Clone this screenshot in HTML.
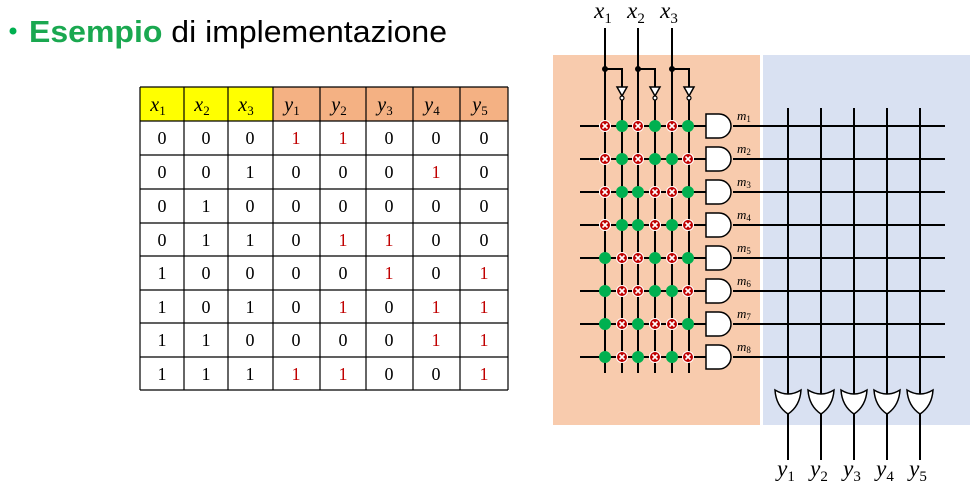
<!DOCTYPE html>
<html><head><meta charset="utf-8"><style>
body{margin:0;width:980px;height:494px;background:#fff;overflow:hidden}
</style></head><body>
<svg width="980" height="494" xmlns="http://www.w3.org/2000/svg" font-family="Liberation Serif, serif">
<circle cx="13" cy="31" r="3.5" fill="#00b050"/>
<text x="29" y="42" font-family="Liberation Sans, sans-serif" font-size="31" fill="#000" textLength="418" lengthAdjust="spacingAndGlyphs"><tspan fill="#1aa850" font-weight="bold">Esempio</tspan> di implementazione</text>
<!-- table -->
<rect x="140" y="87" width="88" height="34" fill="#ffff00"/>
<rect x="184" y="87" width="44" height="34" fill="#ffff00"/>
<rect x="228" y="87" width="45" height="34" fill="#ffff00"/>
<rect x="273" y="87" width="235" height="34" fill="#f4b183"/>
<g stroke="#000" stroke-width="1.2">
<line x1="140" y1="87" x2="508" y2="87"/><line x1="140" y1="121" x2="508" y2="121"/><line x1="140" y1="155" x2="508" y2="155"/><line x1="140" y1="189" x2="508" y2="189"/><line x1="140" y1="223" x2="508" y2="223"/><line x1="140" y1="256" x2="508" y2="256"/><line x1="140" y1="290" x2="508" y2="290"/><line x1="140" y1="323" x2="508" y2="323"/><line x1="140" y1="357" x2="508" y2="357"/><line x1="140" y1="390" x2="508" y2="390"/>
<line x1="140" y1="87" x2="140" y2="390"/><line x1="184" y1="87" x2="184" y2="390"/><line x1="228" y1="87" x2="228" y2="390"/><line x1="273" y1="87" x2="273" y2="390"/><line x1="320" y1="87" x2="320" y2="390"/><line x1="366" y1="87" x2="366" y2="390"/><line x1="413" y1="87" x2="413" y2="390"/><line x1="460" y1="87" x2="460" y2="390"/><line x1="508" y1="87" x2="508" y2="390"/>
</g>
<g font-size="20" font-style="italic" text-anchor="middle">
<text x="158" y="111">x<tspan font-size="13" font-style="normal" dy="4">1</tspan></text>
<text x="202" y="111">x<tspan font-size="13" font-style="normal" dy="4">2</tspan></text>
<text x="246" y="111">x<tspan font-size="13" font-style="normal" dy="4">3</tspan></text>
<text x="292" y="111">y<tspan font-size="13" font-style="normal" dy="4">1</tspan></text>
<text x="339" y="111">y<tspan font-size="13" font-style="normal" dy="4">2</tspan></text>
<text x="385" y="111">y<tspan font-size="13" font-style="normal" dy="4">3</tspan></text>
<text x="432" y="111">y<tspan font-size="13" font-style="normal" dy="4">4</tspan></text>
<text x="480" y="111">y<tspan font-size="13" font-style="normal" dy="4">5</tspan></text>
</g>
<g font-size="18" text-anchor="middle" id="tb"></g>
<!-- regions -->
<rect x="553" y="55" width="207" height="370" fill="#f8cbad"/>
<rect x="763" y="55" width="207" height="370" fill="#d9e1f2"/>
<g id="circ" stroke="#000" stroke-width="2" fill="none"></g>
<g font-size="23" font-style="italic" text-anchor="middle">
<text x="603" y="18">x<tspan font-size="15" font-style="normal" dy="5">1</tspan></text>
<text x="636" y="18">x<tspan font-size="15" font-style="normal" dy="5">2</tspan></text>
<text x="669" y="18">x<tspan font-size="15" font-style="normal" dy="5">3</tspan></text>
<text x="786" y="476">y<tspan font-size="15" font-style="normal" dy="5">1</tspan></text>
<text x="819" y="476">y<tspan font-size="15" font-style="normal" dy="5">2</tspan></text>
<text x="852" y="476">y<tspan font-size="15" font-style="normal" dy="5">3</tspan></text>
<text x="885" y="476">y<tspan font-size="15" font-style="normal" dy="5">4</tspan></text>
<text x="918" y="476">y<tspan font-size="15" font-style="normal" dy="5">5</tspan></text>
</g>
</svg>
<script>
var NS="http://www.w3.org/2000/svg";
function el(p,t,a,txt){var e=document.createElementNS(NS,t);for(var k in a)e.setAttribute(k,a[k]);if(txt!=null)e.textContent=txt;p.appendChild(e);return e;}
var tb=document.getElementById("tb");
var rows=[[0,0,0,1,1,0,0,0],[0,0,1,0,0,0,1,0],[0,1,0,0,0,0,0,0],[0,1,1,0,1,1,0,0],[1,0,0,0,0,1,0,1],[1,0,1,0,1,0,1,1],[1,1,0,0,0,0,1,1],[1,1,1,1,1,0,0,1]];
var cx=[162,206,250,296,343,389,436,484];
var ry=[121,155,189,223,256,290,323,357];
rows.forEach(function(r,i){r.forEach(function(v,j){el(tb,"text",{x:cx[j],y:ry[i]+23,fill:(j>2&&v)?"#c00000":"#000"},v);});});
var c=document.getElementById("circ");
var vx=[605,622,638,655,672,688];
var hy=[126,159,192,225,258,291,324,357];
var ox=[788,821,854,887,920];
[605,638,672].forEach(function(x){
 el(c,"line",{x1:x,y1:28,x2:x,y2:373});
 el(c,"polyline",{points:x+",69 "+(x+17)+",69 "+(x+17)+",87"});
 el(c,"circle",{cx:x,cy:69,r:2,fill:"#000"});
 el(c,"path",{d:"M"+(x+12)+",87 L"+(x+22)+",87 L"+(x+17)+",96 Z",fill:"#fff","stroke-width":1.5});
 el(c,"circle",{cx:x+17,cy:98,r:2,fill:"#fff","stroke-width":1.2});
 el(c,"line",{x1:x+17,y1:100,x2:x+17,y2:373});
});
ox.forEach(function(x){el(c,"line",{x1:x,y1:108,x2:x,y2:460});});
hy.forEach(function(y,i){
 el(c,"line",{x1:580,y1:y,x2:706,y2:y});
 el(c,"line",{x1:733,y1:y,x2:945,y2:y});
 el(c,"path",{d:"M706,"+(y-12)+" L719,"+(y-12)+" A12,12 0 0 1 719,"+(y+12)+" L706,"+(y+12)+" Z",fill:"#fff","stroke-width":1.5});
 var t=el(c.parentNode,"text",{x:737,y:y-6,"font-size":13,"font-style":"italic"},"m");
 el(t,"tspan",{"font-size":9,"font-style":"normal",dy:2},i+1);
 var bits=[(i>>2)&1,(i>>1)&1,i&1];
 for(var k=0;k<3;k++){
  var b=bits[k];
  for(var s=0;s<2;s++){
   var x=vx[2*k+s];
   var green=(s==0)?b==1:b==0;
   if(green){el(c,"circle",{cx:x,cy:y,r:6,fill:"#00b050",stroke:"none"});}
   else{el(c,"circle",{cx:x,cy:y,r:5.5,fill:"#c00000",stroke:"#fff","stroke-width":1});
    el(c,"path",{d:"M"+(x-2.5)+","+(y-2.5)+"L"+(x+2.5)+","+(y+2.5)+"M"+(x+2.5)+","+(y-2.5)+"L"+(x-2.5)+","+(y+2.5),stroke:"#fff","stroke-width":1.6});}
  }
 }
});
ox.forEach(function(x){
 el(c,"path",{d:"M"+(x-13)+",390 Q"+x+",398 "+(x+13)+",390 Q"+(x+12)+",406 "+x+",414 Q"+(x-12)+",406 "+(x-13)+",390 Z",fill:"#fff","stroke-width":1.5});
});
</script>
</body></html>
